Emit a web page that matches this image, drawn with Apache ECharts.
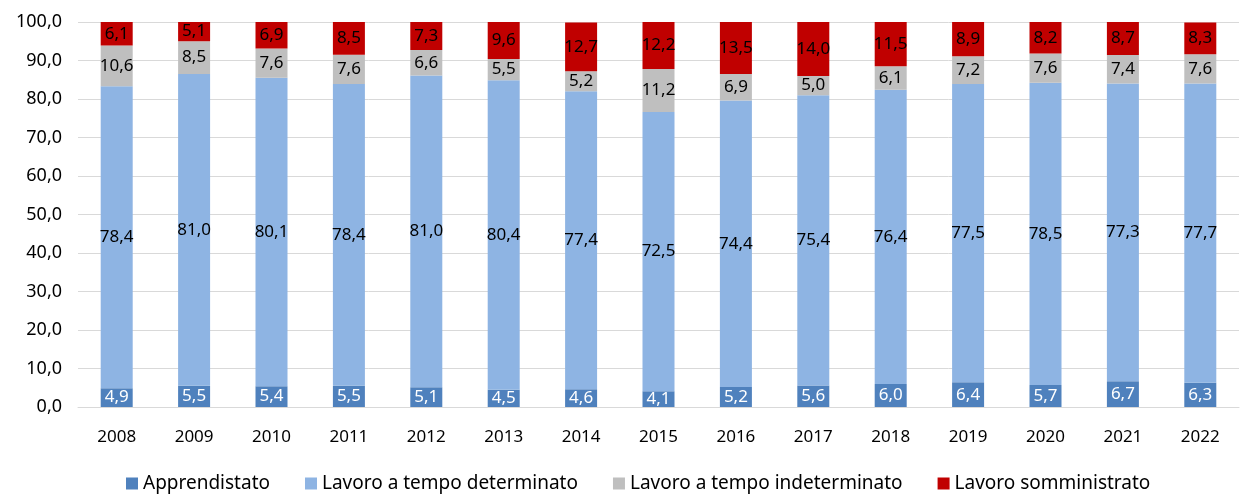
<!DOCTYPE html>
<html>
<head>
<meta charset="utf-8">
<script src="https://cdn.jsdelivr.net/npm/echarts@6/dist/echarts.min.js"></script>
<style>
html, body { margin: 0; padding: 0; background: #fff; }
#chart { width: 1247px; height: 495px; }
</style>
</head>
<body>
<div id="chart"></div>
<script>
var years = ['2008', '2009', '2010', '2011', '2012', '2013', '2014', '2015', '2016', '2017', '2018', '2019', '2020', '2021', '2022'];
var apprendistato = [4.9, 5.5, 5.4, 5.5, 5.1, 4.5, 4.6, 4.1, 5.2, 5.6, 6.0, 6.4, 5.7, 6.7, 6.3];
var tempoDeterminato = [78.4, 81.0, 80.1, 78.4, 81.0, 80.4, 77.4, 72.5, 74.4, 75.4, 76.4, 77.5, 78.5, 77.3, 77.7];
var tempoIndeterminato = [10.6, 8.5, 7.6, 7.6, 6.6, 5.5, 5.2, 11.2, 6.9, 5.0, 6.1, 7.2, 7.6, 7.4, 7.6];
var somministrato = [6.1, 5.1, 6.9, 8.5, 7.3, 9.6, 12.7, 12.2, 13.5, 14.0, 11.5, 8.9, 8.2, 8.7, 8.3];

var font = 'Noto Sans';
function fmt(v) { return v.toFixed(1).replace('.', ','); }

function serie(name, data, color, labelColor) {
    return {
        name: name,
        type: 'bar',
        stack: 'tot',
        data: data,
        barWidth: 32,
        itemStyle: { color: color },
        label: {
            show: true,
            position: 'inside',
            color: labelColor,
            fontFamily: font,
            fontSize: 17,
            formatter: function (p) { return fmt(p.value) }
        }
    }
}

var chart = echarts.init(document.getElementById('chart'))
chart.setOption({
    animation: false,
    textStyle: { fontFamily: font },
    grid: { left: 78, right: 8, top: 22, bottom: 88, containLabel: false },
    legend: {
        top: 474,
        left: 126,
        padding: 0,
        itemWidth: 12,
        itemHeight: 12,
        itemGap: 35,
        icon: 'rect',
        textStyle: { fontFamily: font, fontSize: 19, color: '#000' },
        data: ['Apprendistato', 'Lavoro a tempo determinato', 'Lavoro a tempo indeterminato', 'Lavoro somministrato']
    },
    xAxis: {
        type: 'category',
        data: years,
        axisTick: { show: false },
        axisLine: { lineStyle: { color: '#d9d9d9' } },
        axisLabel: { color: '#000', fontSize: 17, margin: 22, fontFamily: font }
    },
    yAxis: {
        type: 'value',
        min: 0,
        max: 100,
        interval: 10,
        axisLabel: {
            color: '#000',
            fontSize: 18,
            fontFamily: font,
            margin: 16,
            formatter: function (v) { return fmt(v) }
        },
        splitLine: { lineStyle: { color: '#d9d9d9', width: 1 } }
    },
    series: [
        serie('Apprendistato', apprendistato, '#4f81bd', '#fff'),
        serie('Lavoro a tempo determinato', tempoDeterminato, '#8eb4e3', '#000'),
        serie('Lavoro a tempo indeterminato', tempoIndeterminato, '#bfbfbf', '#000'),
        serie('Lavoro somministrato', somministrato, '#c00000', '#000')
    ]
})
</script>
</body>
</html>
